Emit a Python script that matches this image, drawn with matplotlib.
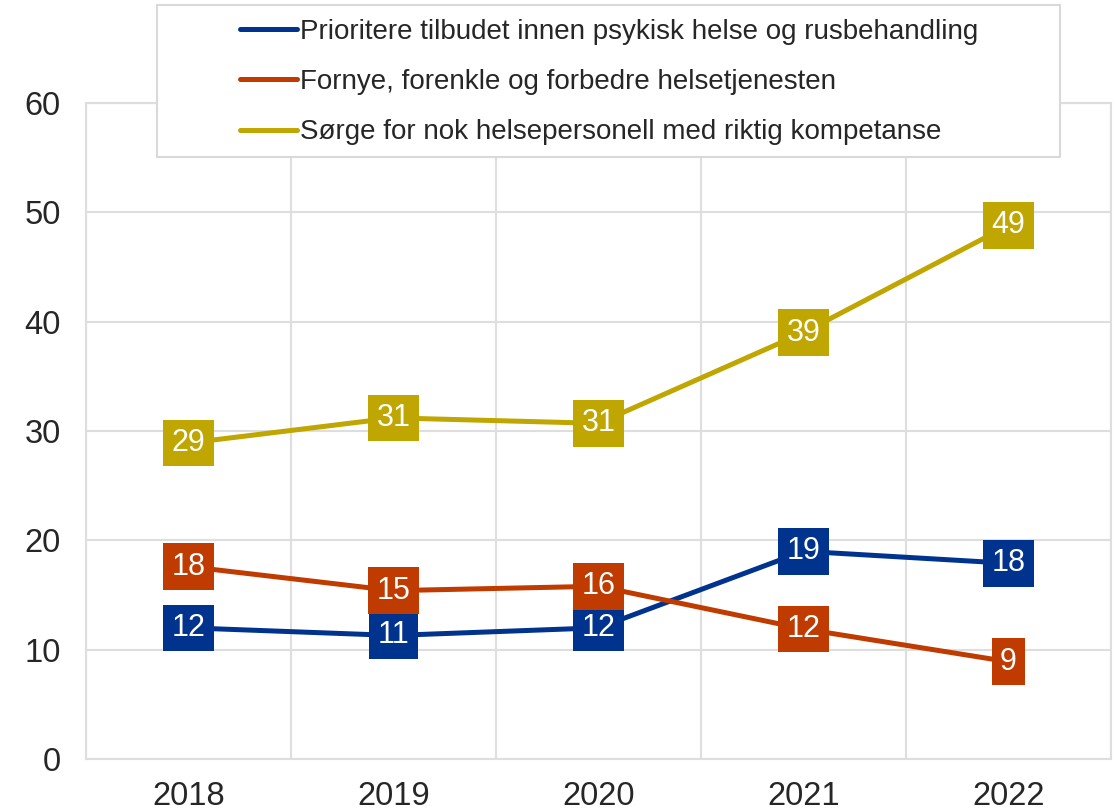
import numpy as np
import matplotlib.pyplot as plt
from matplotlib.patches import Rectangle

plt.rcParams['font.family'] = ['Liberation Sans', 'DejaVu Sans']

# Data
years = ['2018', '2019', '2020', '2021', '2022']
psykisk = [12.0, 11.3, 12.0, 19.0, 17.9]
fornye = [17.6, 15.4, 15.8, 11.9, 8.9]
personell = [28.9, 31.2, 30.7, 39.0, 48.8]

names = ['Prioritere tilbudet innen psykisk helse og rusbehandling',
         'Fornye, forenkle og forbedre helsetjenesten',
         'Sørge for nok helsepersonell med riktig kompetanse']
colors = ['#00338d', '#bf3b00', '#c0a600']
series = [psykisk, fornye, personell]

fig = plt.figure(figsize=(11.15, 8.11), dpi=100)
ax = fig.add_axes([0.0771, 0.0641, 0.9193, 0.8089])

x = np.arange(len(years))
handles = []
for i, (vals, name, c) in enumerate(zip(series, names, colors)):
    h, = ax.plot(x, vals, color=c, lw=3.6, solid_capstyle='round', zorder=3 + i * 2, label=name)
    handles.append(h)
    for xi, v in zip(x, vals):
        ax.text(xi, v, f'{round(v):d}', ha='center', va='center', color='white',
                fontsize=22, zorder=4 + i * 2,
                bbox=dict(boxstyle='square,pad=0.27', fc=c, ec='none'))

ax.set_xlim(-0.5, 4.5)
ax.set_ylim(0, 60)
ax.set_yticks(range(0, 61, 10))
ax.set_xticks(x)
ax.set_xticklabels(years)
ax.set_xticks(np.arange(-0.5, 5, 1), minor=True)
ax.grid(True, axis='y', which='major', color='#dedede', lw=1.5)
ax.grid(True, axis='x', which='minor', color='#dedede', lw=1.5)
ax.tick_params(axis='both', which='both', length=0, labelsize=23.5, colors='#262626')
ax.tick_params(axis='y', pad=18)
ax.tick_params(axis='x', pad=16)
for s in ax.spines.values():
    s.set_color('#dedede')
    s.set_linewidth(1.5)

# legend frame drawn separately (wider than the content)
fig.patches.append(Rectangle((157 / 1115, 1 - 157 / 811), 903 / 1115, 152 / 811,
                             transform=fig.transFigure, fc='white', ec='#d9d9d9',
                             lw=1.5, zorder=10))
leg = fig.legend(handles=handles, loc='upper left', bbox_to_anchor=(240 / 1115, 1 - 19 / 811),
                 frameon=False, fontsize=20, handlelength=2.05, handletextpad=0.1,
                 labelspacing=0.87, borderpad=0, borderaxespad=0)
leg.set_zorder(11)
for t in leg.get_texts():
    t.set_color('#262626')

fig.savefig('out.png', dpi=100)
